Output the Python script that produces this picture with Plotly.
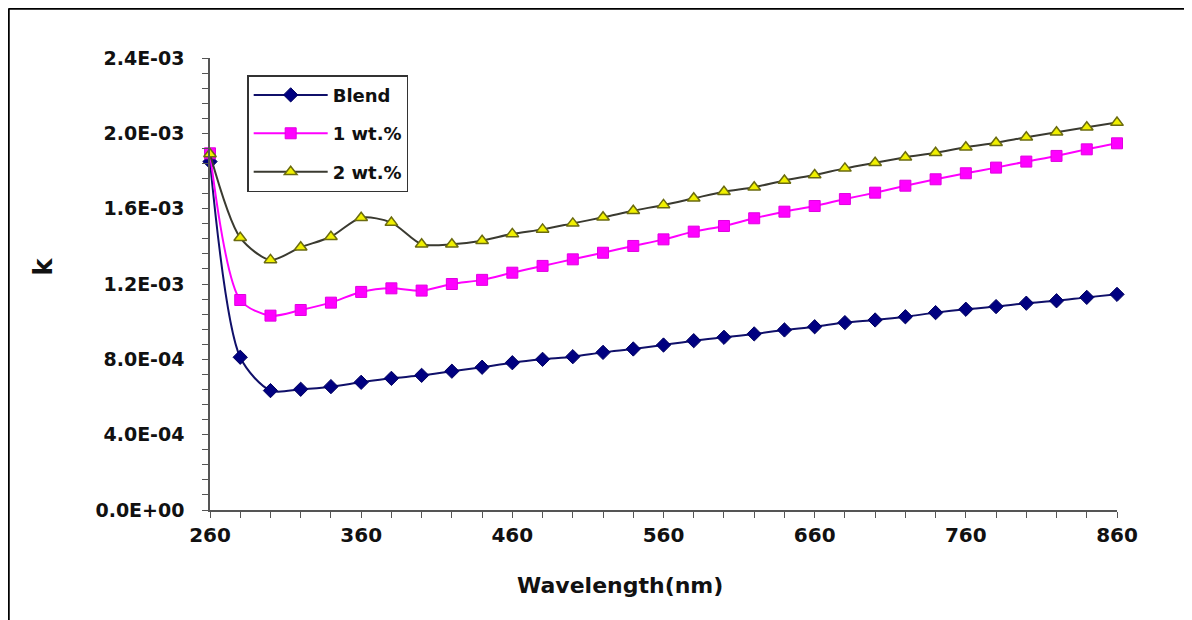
import plotly.graph_objects as go

wavelength = list(range(260, 861, 20))

blend = [1.850, 0.811, 0.634, 0.641, 0.655, 0.678, 0.699, 0.715, 0.737, 0.758,
         0.782, 0.800, 0.814, 0.837, 0.855, 0.876, 0.899, 0.917, 0.935, 0.956,
         0.973, 0.995, 1.009, 1.026, 1.048, 1.066, 1.080, 1.098, 1.111, 1.129, 1.145]
wt1 = [1.894, 1.115, 1.032, 1.062, 1.101, 1.158, 1.177, 1.165, 1.200, 1.222,
       1.260, 1.296, 1.331, 1.366, 1.402, 1.437, 1.478, 1.508, 1.549, 1.584,
       1.614, 1.651, 1.685, 1.722, 1.756, 1.788, 1.818, 1.850, 1.880, 1.915, 1.947]
wt2 = [1.890, 1.446, 1.328, 1.395, 1.451, 1.552, 1.526, 1.411, 1.411, 1.430,
       1.466, 1.490, 1.522, 1.554, 1.589, 1.620, 1.655, 1.690, 1.714, 1.750,
       1.779, 1.814, 1.844, 1.873, 1.897, 1.926, 1.950, 1.979, 2.006, 2.032, 2.057]
blend = [v * 1e-3 for v in blend]
wt1 = [v * 1e-3 for v in wt1]
wt2 = [v * 1e-3 for v in wt2]

series_names = ["Blend", "1 wt.%", "2 wt.%"]

x_tick_vals = list(range(260, 861, 20))
x_tick_labels = [str(v) if (v - 260) % 100 == 0 else "" for v in x_tick_vals]
y_major_vals = [0.0, 4e-4, 8e-4, 1.2e-3, 1.6e-3, 2.0e-3, 2.4e-3]
y_major_labels = ["0.0E+00", "4.0E-04", "8.0E-04", "1.2E-03", "1.6E-03", "2.0E-03", "2.4E-03"]
y_tick_vals = [i * 0.8e-4 for i in range(31)]
y_tick_labels = []
for v in y_tick_vals:
    lab = ""
    for mv, ml in zip(y_major_vals, y_major_labels):
        if abs(v - mv) < 1e-9:
            lab = ml
    y_tick_labels.append(lab)

FONT = "DejaVu Sans"

fig = go.Figure()
fig.add_trace(go.Scatter(
    x=wavelength, y=blend, name=series_names[0], mode="lines+markers",
    line=dict(color="#10106a", width=2, shape="spline", smoothing=0.8),
    marker=dict(symbol="diamond", size=11, color="#000080", line=dict(color="#000060", width=1)),
    cliponaxis=False, legendgroup="a"))
fig.add_trace(go.Scatter(
    x=wavelength, y=wt1, name=series_names[1], mode="lines+markers",
    line=dict(color="#ff00ff", width=2, shape="spline", smoothing=0.8),
    marker=dict(symbol="square", size=11, color="#ff00ff", line=dict(color="#e000e0", width=1)),
    cliponaxis=False, legendgroup="b"))
fig.add_trace(go.Scatter(
    x=wavelength, y=wt2, name=series_names[2], mode="lines+markers",
    line=dict(color="#3a3a30", width=2, shape="spline", smoothing=0.8),
    marker=dict(symbol="triangle-up", size=11, color="#f0f000", line=dict(color="#6b6b10", width=1.5)),
    cliponaxis=False, legendgroup="c"))

L, T = 202, 50
PW, PH = 907, 452

fig.update_layout(
    width=1192, height=620,
    margin=dict(l=L, r=1192 - L - PW, t=T, b=620 - T - PH),
    paper_bgcolor="white", plot_bgcolor="white",
    font=dict(family=FONT, color="#222222"),
    showlegend=True,
    legend=dict(
        x=0.041, y=0.962, xanchor="left", yanchor="top",
        bgcolor="white", bordercolor="#333333", borderwidth=1.5,
        font=dict(family=FONT, size=18, color="#111111", weight="bold"),
        traceorder="grouped", tracegroupgap=12, itemwidth=74,
    ),
    xaxis=dict(
        range=[260, 860], showgrid=False, zeroline=False,
        showline=True, linecolor="#555555", linewidth=1.5,
        ticks="outside", ticklen=6, tickwidth=1.2, tickcolor="#555555",
        tickmode="array", tickvals=x_tick_vals, ticktext=x_tick_labels,
        tickfont=dict(family=FONT, size=20, color="#111111", weight="bold"),
        ticklabelstandoff=0,
    ),
    yaxis=dict(
        range=[0, 2.4e-3], showgrid=False, zeroline=False,
        showline=True, linecolor="#555555", linewidth=1.5,
        ticks="outside", ticklen=6, tickwidth=1.2, tickcolor="#555555",
        tickmode="array", tickvals=y_tick_vals, ticktext=y_tick_labels,
        tickfont=dict(family=FONT, size=19, color="#111111", weight="bold"),
        ticklabelstandoff=14,
    ),
    annotations=[
        dict(text="Wavelength(nm)", xref="paper", yref="paper", x=0.452, y=-0.199,
             showarrow=False, font=dict(family=FONT, size=22, color="#111111", weight="bold")),
        dict(text="k", xref="paper", yref="paper", x=-0.203, y=0.538, textangle=-90,
             showarrow=False, font=dict(family=FONT, size=26, color="#111111", weight="bold")),
    ],
    shapes=[
        dict(type="line", xref="paper", yref="paper",
             x0=(0.5 - L) / PW, x1=(0.5 - L) / PW, y0=-0.3, y1=(T - 0.5) / PH + 1,
             line=dict(color="black", width=2.5)),
        dict(type="line", xref="paper", yref="paper",
             x0=(0.5 - L) / PW, x1=1.1, y0=(T - 0.5) / PH + 1, y1=(T - 0.5) / PH + 1,
             line=dict(color="black", width=2.5)),
    ],
)

fig.write_html("out.html")
